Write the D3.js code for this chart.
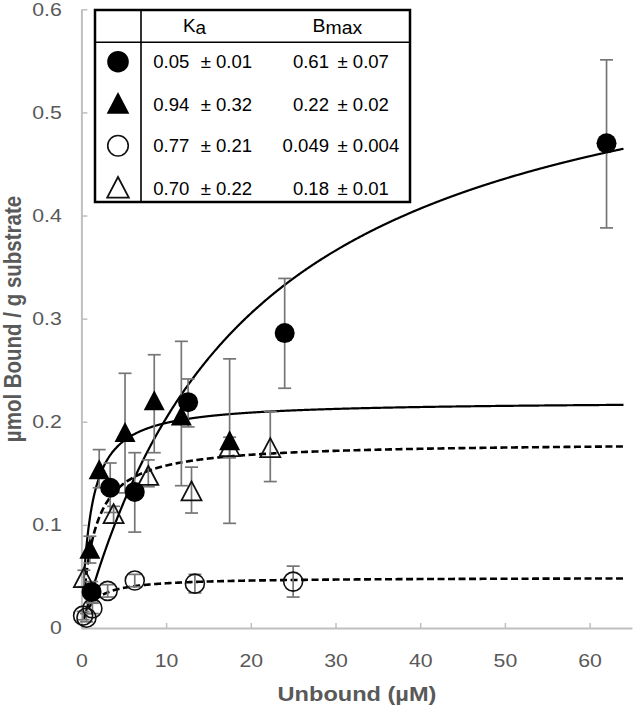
<!DOCTYPE html>
<html><head><meta charset="utf-8">
<script src="https://cdn.jsdelivr.net/npm/d3@7"></script>
<style>html,body{margin:0;padding:0;background:#fff;}svg{display:block;}</style>
</head><body>
<svg id="chart" width="633" height="711"></svg>
<script>
// ---------- data ----------
const xTicks = [0, 10, 20, 30, 40, 50, 60];
const yTicks = [0, 0.1, 0.2, 0.3, 0.4, 0.5, 0.6];
const yTickLabels = ["0", "0.1", "0.2", "0.3", "0.4", "0.5", "0.6"];

// filled circles
const fcX  = [1.2, 3.4, 6.3, 12.6, 24.0, 62.0];
const fcY  = [0.035, 0.136, 0.132, 0.219, 0.286, 0.470];
const fcLo = [0.025, 0.112, 0.093, 0.195, 0.2325, 0.388];
const fcHi = [0.045, 0.160, 0.170, 0.2415, 0.339, 0.551];
// filled triangles
const ftX  = [1.0, 2.1, 5.15, 8.6, 11.8, 17.5];
const ftY  = [0.076, 0.153, 0.189, 0.220, 0.205, 0.181];
const ftLo = [0.063, 0.136, 0.131, 0.170, 0.138, 0.1015];
const ftHi = [0.089, 0.173, 0.247, 0.265, 0.278, 0.261];
// open circles
const ocX  = [0.2, 0.6, 1.3, 3.1, 6.3, 13.4, 25.0];
const ocY  = [0.012, 0.010, 0.019, 0.036, 0.046, 0.043, 0.045];
const ocLo = [0.008, 0.006, 0.014, 0.030, 0.040, 0.034, 0.030];
const ocHi = [0.016, 0.014, 0.024, 0.042, 0.052, 0.052, 0.060];
// open triangles
const otX  = [0.3, 3.8, 7.9, 13.0, 17.5, 22.3];
const otY  = [0.048, 0.110, 0.147, 0.132, 0.175, 0.174];
const otLo = [0.040, 0.102, 0.137, 0.1115, 0.165, 0.142];
const otHi = [0.056, 0.118, 0.163, 0.156, 0.185, 0.210];

// fit table (Langmuir fits)
const legendSymbols = ["filledCircle", "filledTriangle", "openCircle", "openTriangle"];
const kaVal   = ["0.05", "0.94", "0.77", "0.70"];
const kaErr   = ["0.01", "0.32", "0.21", "0.22"];
const bmaxVal = ["0.61", "0.22", "0.049", "0.18"];
const bmaxErr = ["0.07", "0.02", "0.004", "0.01"];
const curveDashed = [false, false, true, true];
const curveXStart = 0.3, curveXEnd = 64;

// ---------- setup ----------
const svg = d3.select("#chart");
const x = d3.scaleLinear().domain([0, 65]).range([81.4, 81.4 + 65 * 8.47]);
const y = d3.scaleLinear().domain([0, 0.6]).range([628, 9.3]);
const AXC = "#bfbfbf", TXT = "#595959", ERR = "#767676";

function stext(parent, px, py, str, o) {
  const t = parent.append("text")
    .attr("transform", `translate(${px},${py}) scale(${o.sx || 1},1)` + (o.rotate ? ` rotate(${o.rotate})` : ""))
    .attr("text-anchor", o.anchor || "start")
    .attr("font-family", "Liberation Sans, Arial, sans-serif")
    .attr("font-size", o.size)
    .attr("font-weight", o.weight || "normal")
    .attr("fill", o.fill || "#000");
  if (str !== null) t.text(str);
  return t;
}

// ---------- axes ----------
const xAxis = svg.append("g").attr("transform", `translate(0,${y(0)})`)
  .call(d3.axisBottom(x).tickValues(xTicks).tickSize(-5).tickSizeOuter(0).tickPadding(26).tickFormat(d => String(d)));
const yAxis = svg.append("g").attr("transform", `translate(${x(0)},0)`)
  .call(d3.axisLeft(y).tickValues(yTicks).tickSize(-6).tickSizeOuter(0).tickPadding(17.1).tickFormat((d, i) => yTickLabels[i]));
[xAxis, yAxis].forEach(g => {
  g.select(".domain").attr("stroke", AXC).attr("stroke-width", 2);
  g.selectAll(".tick line").attr("stroke", AXC).attr("stroke-width", 1.5);
  g.selectAll(".tick text").attr("fill", TXT).attr("font-size", 18.5)
    .attr("font-family", "Liberation Sans, Arial, sans-serif")
    .attr("transform", "scale(1.15,1)");
});

stext(svg, 357, 701, "Unbound (µM)", {size: 20.5, weight: "bold", fill: TXT, anchor: "middle", sx: 1.15});
stext(svg, 21, 319, "µmol Bound / g substrate", {size: 20.5, weight: "bold", fill: TXT, anchor: "middle", sx: 1.15, rotate: -90});

// ---------- curves ----------
const plot = svg.append("g");
const line = d3.line().x(d => x(d[0])).y(d => y(d[1])).curve(d3.curveMonotoneX);
kaVal.forEach((k, i) => {
  const ka = +k, bm = +bmaxVal[i];
  const xs = d3.range(curveXStart, curveXEnd, 0.1).concat([curveXEnd]);
  const pts = xs.map(v => [v, bm * ka * v / (1 + ka * v)]);
  plot.append("path").attr("d", line(pts)).attr("fill", "none")
    .attr("stroke", "#000").attr("stroke-width", curveDashed[i] ? 2.6 : 2.2)
    .attr("stroke-dasharray", curveDashed[i] ? "7,3.5" : null);
});

// ---------- error bars ----------
function errBars(xs, lo, hi) {
  xs.forEach((v, i) => {
    const px = x(v), y1 = y(lo[i]), y2 = y(hi[i]);
    const g = plot.append("g").attr("stroke", ERR).attr("stroke-width", 1.7);
    g.append("line").attr("x1", px).attr("x2", px).attr("y1", y1).attr("y2", y2);
    g.append("line").attr("x1", px - 6.5).attr("x2", px + 6.5).attr("y1", y1).attr("y2", y1);
    g.append("line").attr("x1", px - 6.5).attr("x2", px + 6.5).attr("y1", y2).attr("y2", y2);
  });
}
errBars(otX, otLo, otHi);
errBars(ocX, ocLo, ocHi);
errBars(ftX, ftLo, ftHi);
errBars(fcX, fcLo, fcHi);

// ---------- markers ----------
function triPath(w, h) {
  return `M0,${-h * 0.55}L${w / 2},${h * 0.45}L${-w / 2},${h * 0.45}Z`;
}
function drawMarker(g, type, px, py, scale) {
  const s = scale || 1;
  if (type === "filledCircle") {
    g.append("circle").attr("cx", px).attr("cy", py).attr("r", 10 * s).attr("fill", "#000");
  } else if (type === "openCircle") {
    g.append("circle").attr("cx", px).attr("cy", py).attr("r", 9.5 * s).attr("fill", "none")
      .attr("stroke", "#111").attr("stroke-width", 1.6);
  } else if (type === "filledTriangle") {
    g.append("path").attr("transform", `translate(${px},${py})`).attr("d", triPath(21 * s, 20 * s)).attr("fill", "#000");
  } else {
    g.append("path").attr("transform", `translate(${px},${py})`).attr("d", triPath(20 * s, 19 * s))
      .attr("fill", "none").attr("stroke", "#111").attr("stroke-width", 1.8);
  }
}
otX.forEach((v, i) => drawMarker(plot, "openTriangle", x(v), y(otY[i])));
ocX.forEach((v, i) => drawMarker(plot, "openCircle", x(v), y(ocY[i])));
ftX.forEach((v, i) => drawMarker(plot, "filledTriangle", x(v), y(ftY[i])));
fcX.forEach((v, i) => drawMarker(plot, "filledCircle", x(v), y(fcY[i])));

// ---------- legend table ----------
const lg = svg.append("g");
lg.append("rect").attr("x", 95).attr("y", 10).attr("width", 315).attr("height", 192)
  .attr("fill", "#fff").attr("stroke", "#000").attr("stroke-width", 2.5);
lg.append("line").attr("x1", 95).attr("x2", 410).attr("y1", 42.3).attr("y2", 42.3).attr("stroke", "#000").attr("stroke-width", 1.6);
lg.append("line").attr("x1", 141).attr("x2", 141).attr("y1", 10).attr("y2", 202).attr("stroke", "#000").attr("stroke-width", 1.6);

const hk = stext(lg, 183, 31.7, null, {size: 18.5, sx: 1.02});
hk.append("tspan").text("K");
hk.append("tspan").attr("dy", 2).text("a");
const hb = stext(lg, 312.5, 31.7, null, {size: 18.5, sx: 1.05});
hb.append("tspan").text("B");
hb.append("tspan").attr("dy", 2).text("max");

const rowBase = [68.3, 110.7, 152.3, 195];
const rowMid = [61.7, 104, 145.7, 188.3];
legendSymbols.forEach((s, i) => {
  drawMarker(lg, s, 118, rowMid[i], 1.08);
  stext(lg, 189.3, rowBase[i], kaVal[i], {size: 17.5, anchor: "end", sx: 1.06});
  stext(lg, 200.7, rowBase[i], "± " + kaErr[i], {size: 17.5, sx: 1.06});
  stext(lg, 329, rowBase[i], bmaxVal[i], {size: 17.5, anchor: "end", sx: 1.06});
  stext(lg, 337.5, rowBase[i], "± " + bmaxErr[i], {size: 17.5, sx: 1.06});
});
</script>
</body></html>
